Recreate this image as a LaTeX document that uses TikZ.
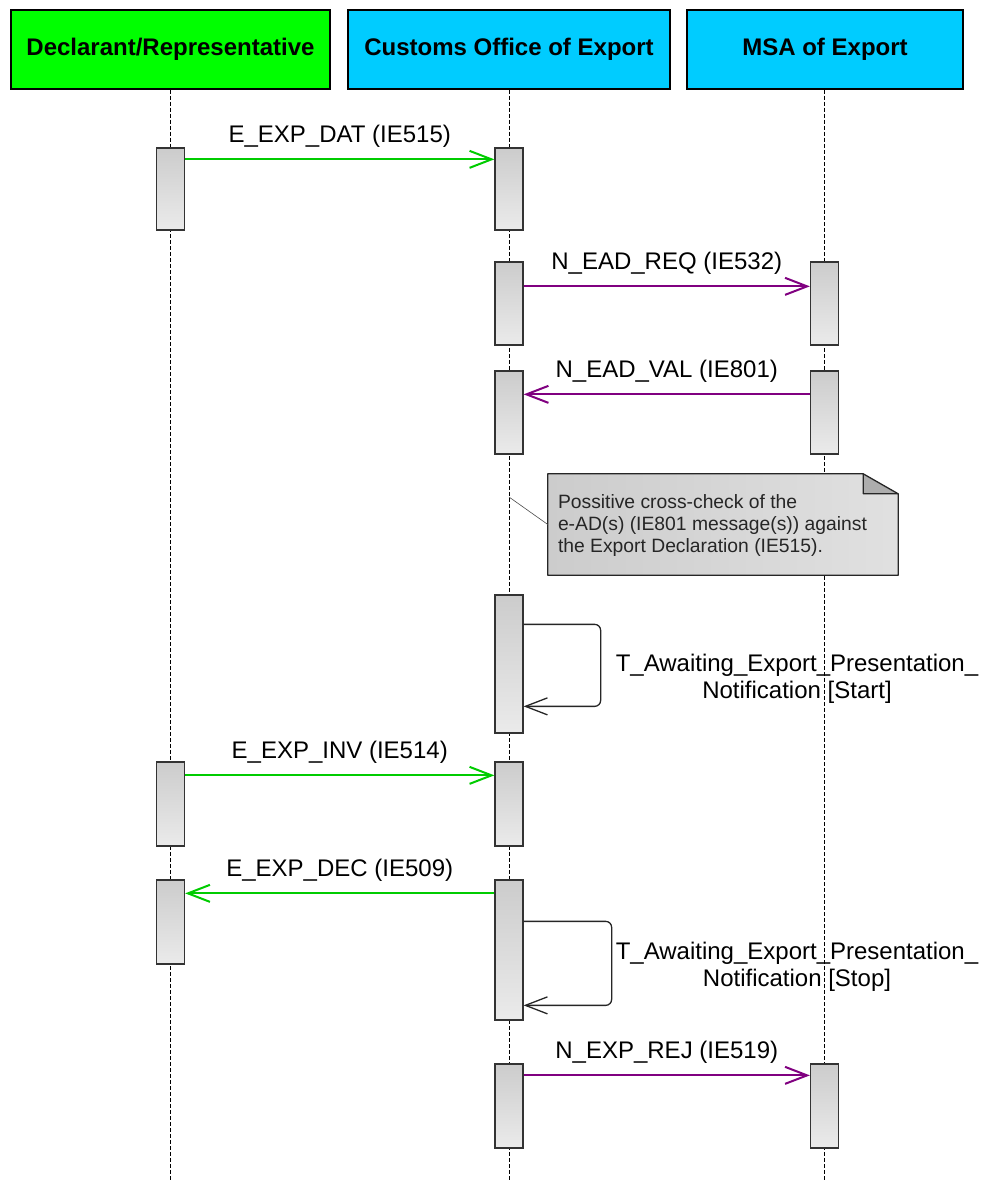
\documentclass[tikz,border=0pt]{standalone}
\usepackage{fontspec}
\setmainfont{Liberation Sans}
\usetikzlibrary{arrows.meta}
\definecolor{actorgreen}{RGB}{0,255,0}
\definecolor{actorcyan}{RGB}{0,204,255}
\definecolor{msggreen}{RGB}{0,204,0}
\definecolor{msgpurple}{RGB}{128,0,128}

\begin{document}
\begin{tikzpicture}[x=1pt, y=-1pt,
	actor/.style={draw=black, line width=1.5pt, minimum height=79pt, inner sep=0pt, font=\fontsize{24}{27}\selectfont\bfseries},
	lifeline/.style={black, line width=1pt, dash pattern=on 4pt off 2pt},
	actbar/.style={draw=black!80, line width=1.3pt, top color=black!20, bottom color=black!8, minimum width=28pt, inner sep=0pt},
	msg/.style={line width=2pt, -{Straight Barb[length=22pt, width=17pt]}},
	selfmsg/.style={black!85, line width=1.3pt, rounded corners=6pt, -{Straight Barb[length=22pt, width=17pt]}},
	msglabel/.style={midway, anchor=base, yshift=17pt, text=black, font=\fontsize{24}{27}\selectfont},
	looplabel/.style={align=center, font=\fontsize{24}{27}\selectfont},
	notetext/.style={align=left, inner sep=0pt, text=black!85, font=\fontsize{19.3}{21.7}\selectfont}]
	\useasboundingbox (0,0) rectangle (984,1180);
	\coordinate (bottom) at (0,1180);

	\node[actor, fill=actorgreen, minimum width=319pt] (dec) at (170.5,49.5) {Declarant/Representative};
	\node[actor, fill=actorcyan, minimum width=322pt] (cus) at (509,49.5) {Customs Office of Export};
	\node[actor, fill=actorcyan, minimum width=276pt] (msa) at (825,49.5) {MSA of Export};

	\draw[lifeline] (dec.south) -- (dec.south |- bottom);
	\draw[lifeline] (cus.south) -- (cus.south |- bottom);
	\draw[lifeline] ([xshift=-0.5pt]msa.south) -- ([xshift=-0.5pt]msa.south |- bottom);

	\node[actbar, minimum height=82pt] (decA) at (170.5,189) {};
	\node[actbar, minimum height=82pt] (cusA) at (509,189) {};
	\node[actbar, minimum height=83pt] (cusB) at (509,303.5) {};
	\node[actbar, minimum height=83pt] (msaB) at (824.5,303.5) {};
	\node[actbar, minimum height=83pt] (cusC) at (509,412.5) {};
	\node[actbar, minimum height=83pt] (msaC) at (824.5,412.5) {};
	\node[actbar, minimum height=138pt] (cusD) at (509,664) {};
	\node[actbar, minimum height=84pt] (decE) at (170.5,804) {};
	\node[actbar, minimum height=84pt] (cusE) at (509,804) {};
	\node[actbar, minimum height=84pt] (decF) at (170.5,922) {};
	\node[actbar, minimum height=140pt] (cusF) at (509,950) {};
	\node[actbar, minimum height=84pt] (cusG) at (509,1106) {};
	\node[actbar, minimum height=84pt] (msaG) at (824.5,1106) {};

	\draw[msg, msggreen] ([yshift=-12pt]decA.north east) -- node[msglabel] {E\_EXP\_DAT (IE515)} ([yshift=-12pt]cusA.north west);
	\draw[msg, msgpurple] ([yshift=-25pt]cusB.north east) -- node[msglabel] {N\_EAD\_REQ (IE532)} ([yshift=-25pt]msaB.north west);
	\draw[msg, msgpurple] ([yshift=-24pt]msaC.north west) -- node[msglabel] {N\_EAD\_VAL (IE801)} ([yshift=-24pt]cusC.north east);
	\draw[msg, msggreen] ([yshift=-14pt]decE.north east) -- node[msglabel] {E\_EXP\_INV (IE514)} ([yshift=-14pt]cusE.north west);
	\draw[msg, msggreen] ([yshift=-14pt]cusF.north west) -- node[msglabel] {E\_EXP\_DEC (IE509)} ([yshift=-14pt]decF.north east);
	\draw[msg, msgpurple] ([yshift=-12pt]cusG.north east) -- node[msglabel] {N\_EXP\_REJ (IE519)} ([yshift=-12pt]msaG.north west);

	\node[minimum width=350pt, minimum height=101pt, inner sep=0pt] (noteBox) at (723,524.5) {};
	\fill[left color=black!20, right color=black!12] (noteBox.south west) -- (noteBox.north west) -- ([xshift=-35pt]noteBox.north east) -- ([yshift=-20pt]noteBox.north east) -- (noteBox.south east) -- cycle;
	\fill[black!32] ([xshift=-35pt]noteBox.north east) -- ([xshift=-35pt,yshift=-20pt]noteBox.north east) -- ([yshift=-20pt]noteBox.north east) -- cycle;
	\draw[black!85, line width=1.3pt, line join=round] (noteBox.south west) -- (noteBox.north west) -- ([xshift=-35pt]noteBox.north east) -- ([yshift=-20pt]noteBox.north east) -- (noteBox.south east) -- cycle
		([xshift=-35pt]noteBox.north east) -- ([xshift=-35pt,yshift=-20pt]noteBox.north east) -- ([yshift=-20pt]noteBox.north east);
	\node[notetext, anchor=west] (noteText) at ([xshift=10pt,yshift=-1pt]noteBox.west) {Possitive cross-check of the\\e-AD(s) (IE801 message(s)) against\\the Export Declaration (IE515).};
	\coordinate (cusNote) at (509,497);
	\draw[black!70, line width=0.6pt] (cusNote) -- (noteBox.west);

	\draw[selfmsg] ([yshift=-30pt]cusD.north east) -- ++(77,0) -- ++(0,82) -- ([yshift=-112pt]cusD.north east);
	\node[looplabel] (startLabel) at (797,679) {T\_Awaiting\_Export\_Presentation\_\\Notification [Start]};
	\draw[selfmsg] ([yshift=-42pt]cusF.north east) -- ++(88,0) -- ++(0,84) -- ([yshift=-126pt]cusF.north east);
	\node[looplabel] (stopLabel) at (797,967) {T\_Awaiting\_Export\_Presentation\_\\Notification [Stop]};
\end{tikzpicture}
\end{document}
